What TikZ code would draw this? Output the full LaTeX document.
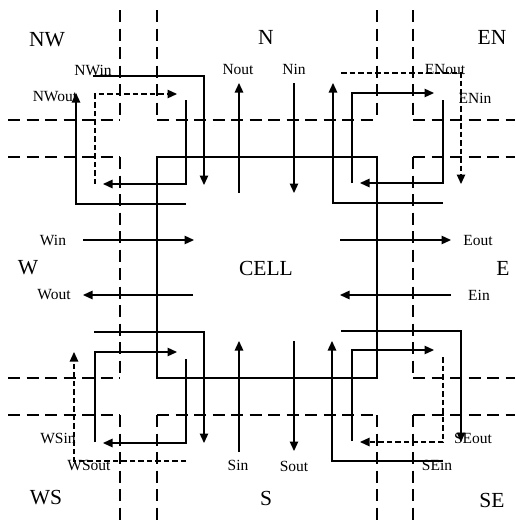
\documentclass[tikz,border=0pt]{standalone}
\usepackage{fontspec}
\setmainfont{Liberation Serif}
\usetikzlibrary{arrows.meta}

\begin{document}
\begin{tikzpicture}[x=1pt, y=-1pt,
    road/.style={line width=1.2pt, dash pattern=on 12pt off 6.5pt},
    wire/.style={line width=1.3pt, -{Triangle[length=9.5pt,width=8.5pt]}},
    dwire/.style={wire, line width=1.2pt, dash pattern=on 5.5pt off 3pt},
    big/.style={inner sep=0pt, font=\fontsize{21.5}{24}\selectfont},
    small/.style={inner sep=0pt, font=\fontsize{15.5}{18}\selectfont}]
        \useasboundingbox (0, 0) rectangle (515, 525);
        % road edges around the cell
        \foreach \y in {120, 415} {
          \draw[road] (8, \y) -- (120, \y);
          \draw[road] (157, \y) -- (377, \y);
          \draw[road] (413, \y) -- (515, \y);
        }
        \foreach \y in {157, 378} {
          \draw[road] (8, \y) -- (120, \y);
          \draw[road] (413, \y) -- (515, \y);
        }
        \foreach \x in {120, 413} {
          \draw[road] (\x, 10) -- (\x, 120);
          \draw[road] (\x, 157) -- (\x, 378);
          \draw[road] (\x, 415) -- (\x, 525);
        }
        \foreach \x in {157, 377} {
          \draw[road] (\x, 10) -- (\x, 120);
          \draw[road] (\x, 415) -- (\x, 525);
        }
        \draw[line width=1.3pt] (157, 157) rectangle (377, 378);

        % corner turns
        \draw[wire] (93, 76) -- (204, 76) -- (204, 185);
        \draw[dwire] (95, 184) -- (95, 94) -- (177, 94);
        \draw[wire] (186, 100) -- (186, 184) -- (103, 184);
        \draw[wire] (186, 204) -- (76, 204) -- (76, 93);

        \draw[dwire] (341, 73) -- (461, 73) -- (461, 184);
        \draw[wire] (352, 183) -- (352, 93) -- (434, 93);
        \draw[wire] (443, 100) -- (443, 183) -- (360, 183);
        \draw[wire] (443, 203) -- (333, 203) -- (333, 83);

        \draw[wire] (94, 332) -- (204, 332) -- (204, 443);
        \draw[wire] (95, 442) -- (95, 352) -- (177, 352);
        \draw[wire] (186, 359) -- (186, 443) -- (103, 443);
        \draw[dwire] (186, 461) -- (74, 461) -- (74, 352);

        \draw[wire] (341, 331) -- (461, 331) -- (461, 442);
        \draw[wire] (352, 441) -- (352, 350) -- (434, 350);
        \draw[dwire] (443, 357) -- (443, 442) -- (360, 442);
        \draw[wire] (443, 461) -- (332, 461) -- (332, 341);

        % straight ports
        \draw[wire] (239, 193) -- (239, 83);
        \draw[wire] (294, 83) -- (294, 193);
        \draw[wire] (239, 452) -- (239, 341);
        \draw[wire] (294, 341) -- (294, 451);
        \draw[wire] (83, 240) -- (194, 240);
        \draw[wire] (340, 240) -- (451, 240);
        \draw[wire] (193, 295) -- (83, 295);
        \draw[wire] (451, 295) -- (340, 295);

        % regions
        \node[big] (nw) at (47, 40) {NW};
        \node[big] (n) at (266, 37) {N};
        \node[big] (en) at (492, 37) {EN};
        \node[big] (w) at (28, 268) {W};
        \node[big] (cell) at (266, 268) {CELL};
        \node[big] (e) at (503, 268) {E};
        \node[big] (ws) at (46, 498) {WS};
        \node[big] (s) at (266, 498) {S};
        \node[big] (se) at (492, 500) {SE};

        % port names
        \node[small] (nwin) at (93, 70) {NWin};
        \node[small] (nwout) at (55, 97) {NWout};
        \node[small] (nout) at (238, 69) {Nout};
        \node[small] (nin) at (294, 69) {Nin};
        \node[small] (enout) at (445, 69) {ENout};
        \node[small] (enin) at (475, 98) {ENin};
        \node[small] (win) at (53, 240) {Win};
        \node[small] (eout) at (478, 240) {Eout};
        \node[small] (wout) at (54, 295) {Wout};
        \node[small] (ein) at (479, 295) {Ein};
        \node[small] (wsin) at (58, 438) {WSin};
        \node[small] (wsout) at (89, 465) {WSout};
        \node[small] (sin) at (238, 465) {Sin};
        \node[small] (sout) at (294, 466) {Sout};
        \node[small] (seout) at (473, 438) {SEout};
        \node[small] (sein) at (437, 465) {SEin};
      \end{tikzpicture}
\end{document}
